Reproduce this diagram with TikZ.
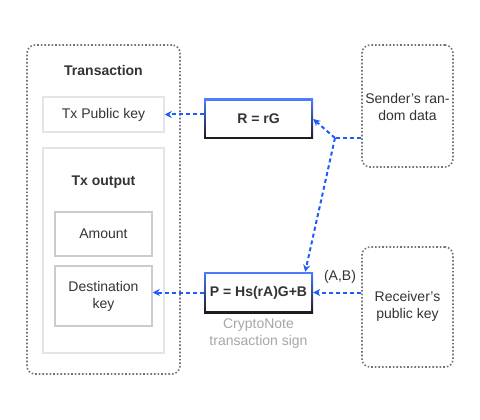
\documentclass[tikz,border=0pt]{standalone}
\usepackage{fontspec}
\setmainfont{Liberation Sans}
\usepackage{tikz}
\usetikzlibrary{arrows.meta, positioning, shapes}

\definecolor{linkblue}{HTML}{1F5CFF}
\definecolor{txtgray}{HTML}{333333}
\tikzset{
  every node/.style={font=\fontsize{14}{17}\selectfont, text=txtgray, align=center},
  holder/.style={draw=black!55, dotted, line width=1.6pt, rounded corners=8pt},
  outerbox/.style={draw=black!10, line width=1.5pt},
  innerbox/.style={draw=black!20, line width=1.5pt},
  signbox/.style={top color=linkblue!80, bottom color=black!90, inner sep=0pt,
    path picture={\fill[white] ([shift={(2pt,-2pt)}]path picture bounding box.north west)
      rectangle ([shift={(-2pt,2pt)}]path picture bounding box.south east);},
    font=\fontsize{14}{17}\selectfont\bfseries},
  link/.style={draw=linkblue, line width=2pt, dash pattern=on 4pt off 3pt,
    -{Stealth[length=7pt,width=7pt]}}
}

\begin{document}
\begin{tikzpicture}[x=1pt,y=-1pt]
\useasboundingbox (0,0) rectangle (480,420);

\node[holder, minimum width=153pt, minimum height=329pt] (trans) at (103.5,209.5) {};
\node[font=\fontsize{14}{17}\selectfont\bfseries] (transtitle) at (103.5,70) {Transaction};
\node[outerbox, minimum width=121pt, minimum height=35pt] (txpub) at (103.5,114.5) {Tx Public key};
\node[outerbox, minimum width=121pt, minimum height=205pt] (txout) at (103.5,250.5) {};
\node[font=\fontsize{14}{17}\selectfont\bfseries] (txouttitle) at (103.5,182) {Tx output};
\node[innerbox, minimum width=97pt, minimum height=44pt] (amount) at (103.5,234) {Amount};
\node[innerbox, minimum width=97pt, minimum height=60pt] (dest) at (103.5,296) {Destination\\key};

\node[signbox, minimum width=109pt, minimum height=40pt] (rbox) at (258.5,119) {R = rG};
\node[signbox, minimum width=109pt, minimum height=41pt] (pbox) at (258.5,292.5) {P = Hs(rA)G+B};
\node[text=black!35, below=2pt of pbox] (signlabel) {CryptoNote\\transaction sign};

\node[holder, minimum width=91pt, minimum height=122pt] (sender) at (407.5,106) {};
\node (sendertext) at (407.5,107) {Sender’s ran-\\dom data};
\node[holder, minimum width=91pt, minimum height=120pt] (receiver) at (407.5,307) {};
\node (receivertext) at (407.5,306) {Receiver’s\\public key};
\node (ab) at (340,277) {(A,B)};

\coordinate (junction) at (335,138);

\draw[link] (rbox.west |- txpub.east) -- (txpub.east);
\draw[link, -] (sender.west |- junction) -- (junction);
\draw[link] (junction) -- (rbox.east);
\draw[link] (junction) -- ([xshift=-8pt]pbox.north east);
\draw[link] (receiver.west |- pbox.east) -- (pbox.east);
\draw[link] (pbox.west) -- (pbox.west -| dest.east);
\end{tikzpicture}
\end{document}
